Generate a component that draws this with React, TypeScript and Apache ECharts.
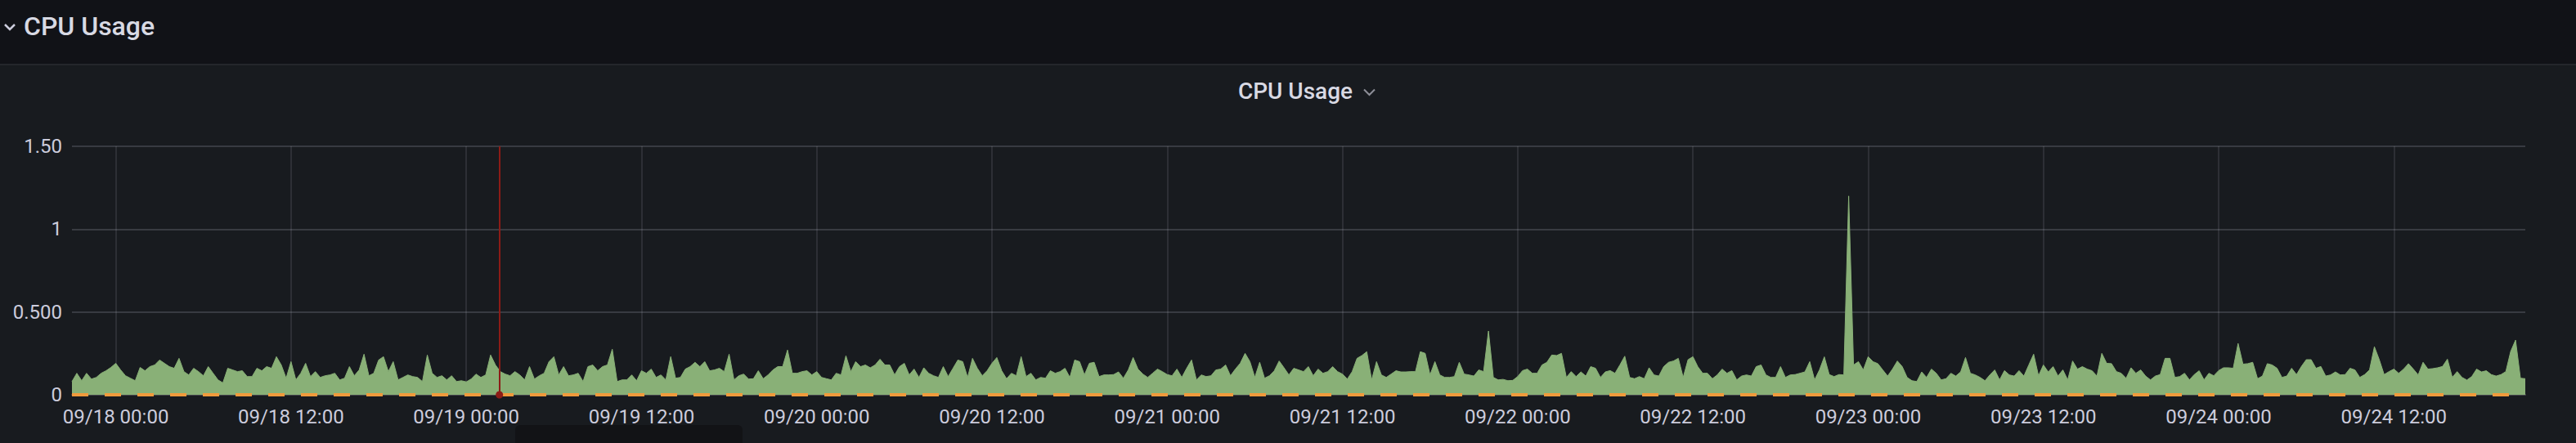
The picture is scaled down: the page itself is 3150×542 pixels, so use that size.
import React, { useEffect, useRef } from "react";
import * as echarts from "echarts";

// CPU usage, one sample every 20 minutes from 09/17 21:00 to 09/24 21:00
const cpuA = [
  0.08, 0.13, 0.085, 0.13, 0.095, 0.105, 0.13, 0.145, 0.165, 0.19,
  0.15, 0.115, 0.1, 0.085, 0.165, 0.145, 0.17, 0.18, 0.21, 0.19,
  0.17, 0.16, 0.22, 0.14, 0.12, 0.16, 0.14, 0.115, 0.17, 0.13,
  0.09, 0.072, 0.16, 0.15, 0.14, 0.145, 0.11, 0.11, 0.16, 0.145,
  0.17, 0.16, 0.23, 0.18, 0.1, 0.2, 0.09, 0.13, 0.19, 0.11,
  0.14, 0.105, 0.115, 0.12, 0.13, 0.09, 0.1, 0.17, 0.115, 0.15,
  0.245, 0.115, 0.13, 0.21, 0.23, 0.14, 0.2, 0.09, 0.105, 0.12,
  0.11, 0.105, 0.08, 0.24, 0.13, 0.105, 0.115, 0.09, 0.115, 0.08,
  0.085, 0.078, 0.095, 0.125, 0.105, 0.12, 0.24, 0.18, 0.14, 0.125,
  0.115, 0.14, 0.12, 0.09, 0.17, 0.095, 0.115, 0.13, 0.2, 0.23,
  0.12, 0.17, 0.115, 0.12, 0.13, 0.08, 0.17, 0.18, 0.145, 0.17,
  0.18, 0.275, 0.08, 0.09, 0.09, 0.12, 0.085, 0.145, 0.13, 0.155,
  0.105, 0.12, 0.09, 0.23, 0.1, 0.105, 0.155, 0.17,
];
const cpuB = [
  0.196, 0.17, 0.2, 0.145, 0.15, 0.16, 0.14, 0.245, 0.09, 0.115,
  0.125, 0.095, 0.097, 0.145, 0.097, 0.12, 0.15, 0.17, 0.17, 0.27,
  0.13, 0.13, 0.14, 0.145, 0.12, 0.14, 0.105, 0.097, 0.09, 0.13,
  0.12, 0.235, 0.14, 0.2, 0.17, 0.18, 0.163, 0.18, 0.215, 0.18,
  0.18, 0.12, 0.17, 0.19, 0.12, 0.155, 0.105, 0.163, 0.13, 0.115,
  0.105, 0.17, 0.11, 0.16, 0.21, 0.2, 0.105, 0.22, 0.16, 0.115,
  0.145, 0.19, 0.225, 0.145, 0.097, 0.13, 0.115, 0.23, 0.11, 0.13,
  0.09, 0.105, 0.1, 0.145, 0.13, 0.14, 0.16, 0.105, 0.21, 0.2,
  0.12, 0.19, 0.196, 0.11, 0.12, 0.12, 0.122, 0.138, 0.1, 0.15,
  0.225, 0.155, 0.125, 0.105, 0.13, 0.155, 0.14, 0.122, 0.115, 0.155,
  0.105, 0.16, 0.21, 0.09, 0.12, 0.11, 0.115, 0.15, 0.155, 0.18,
  0.115, 0.155, 0.19, 0.25, 0.2, 0.105, 0.196, 0.1, 0.115, 0.145,
  0.204, 0.163, 0.12, 0.16, 0.15, 0.14, 0.17,
];
const cpuC = [
  0.115, 0.155, 0.13, 0.14, 0.17, 0.14, 0.125, 0.095, 0.14, 0.22,
  0.237, 0.26, 0.09, 0.2, 0.12, 0.105, 0.125, 0.145, 0.138, 0.138,
  0.14, 0.14, 0.26, 0.25, 0.12, 0.2, 0.12, 0.105, 0.105, 0.11,
  0.196, 0.125, 0.12, 0.113, 0.15, 0.14, 0.385, 0.105, 0.09, 0.093,
  0.085, 0.087, 0.11, 0.146, 0.155, 0.13, 0.13, 0.18, 0.196, 0.24,
  0.237, 0.25, 0.105, 0.14, 0.11, 0.138, 0.113, 0.17, 0.16, 0.105,
  0.138, 0.146, 0.13, 0.18, 0.233, 0.105, 0.097, 0.11, 0.097, 0.163,
  0.12, 0.113, 0.17, 0.196, 0.204, 0.22, 0.105, 0.212, 0.23, 0.17,
  0.13, 0.13, 0.097, 0.12, 0.155, 0.13, 0.146, 0.09, 0.113, 0.12,
  0.113, 0.17, 0.18, 0.12, 0.105, 0.105, 0.17, 0.105, 0.12, 0.122,
  0.13, 0.138, 0.2, 0.09, 0.15, 0.229, 0.122, 0.11, 0.122, 0.12,
  1.2, 0.18, 0.2, 0.15, 0.23, 0.2, 0.188, 0.15, 0.113, 0.155,
  0.204, 0.17, 0.105, 0.085, 0.08, 0.138,
];
const cpuD = [
  0.105, 0.155, 0.13, 0.09, 0.097, 0.13, 0.113, 0.138, 0.225, 0.13,
  0.12, 0.105, 0.085, 0.12, 0.15, 0.09, 0.146, 0.12, 0.113, 0.146,
  0.113, 0.18, 0.245, 0.115, 0.18, 0.138, 0.17, 0.113, 0.15, 0.09,
  0.204, 0.155, 0.17, 0.155, 0.145, 0.113, 0.25, 0.19, 0.188, 0.14,
  0.13, 0.1, 0.163, 0.13, 0.15, 0.113, 0.09, 0.113, 0.122, 0.22,
  0.22, 0.105, 0.11, 0.13, 0.09, 0.122, 0.145, 0.09, 0.13, 0.115,
  0.146, 0.163, 0.163, 0.16, 0.31, 0.185, 0.188, 0.196, 0.097, 0.113,
  0.188, 0.18, 0.16, 0.105, 0.113, 0.16, 0.122, 0.171, 0.212, 0.212,
  0.16, 0.171, 0.113, 0.12, 0.138, 0.12, 0.122, 0.16, 0.15, 0.105,
  0.122, 0.15, 0.29, 0.212, 0.122, 0.14, 0.155, 0.13, 0.155, 0.188,
  0.155, 0.12, 0.196, 0.155, 0.158, 0.163, 0.171, 0.215, 0.105, 0.14,
  0.105, 0.089, 0.11, 0.155, 0.138, 0.145, 0.122, 0.113, 0.122, 0.14,
  0.262, 0.33, 0.1, 0.097,
];

// Time is measured in hours from 09/18 00:00
const START_H = -3; // 09/17 21:00
const END_H = 165; // 09/24 21:00
const STEP_H = 20 / 60;
const ANNOTATION_H = 26 + 16 / 60; // 09/19 02:16

const xTicks = [0, 12, 24, 36, 48, 60, 72, 84, 96, 108, 120, 132, 144, 156];
const xTickLabels = [
  "09/18 00:00", "09/18 12:00", "09/19 00:00", "09/19 12:00", "09/20 00:00",
  "09/20 12:00", "09/21 00:00", "09/21 12:00", "09/22 00:00", "09/22 12:00",
  "09/23 00:00", "09/23 12:00", "09/24 00:00", "09/24 12:00",
];

const yTicks = [0, 0.5, 1, 1.5];
const yTickLabels = ["0", "0.500", "1", "1.50"];
const rowTitle = "CPU Usage";
const panelTitle = "CPU Usage";

const TEXT = "#ccccdc";
const GREEN = "#89b077";
const ORANGE = "#f09a3c";
const RED = "#8c1c17";

const labelFor = (ticks: number[], labels: string[], v: number) => {
  const k = ticks.findIndex((t) => Math.abs(t - v) < 1e-6);
  return k >= 0 ? labels[k] : "";
};

export default function App() {
  const ref = useRef<HTMLDivElement>(null);
  useEffect(() => {
    if (!ref.current) return;
    const chart = echarts.init(ref.current, null, { renderer: "svg" });
    const values = [...cpuA, ...cpuB, ...cpuC, ...cpuD];
    const data = values.map((v, i) => [START_H + i * STEP_H, v]);
    chart.setOption({
      animation: false,
      backgroundColor: "#181b1f",
      textStyle: { fontFamily: "Roboto" },
      grid: { left: 88, right: 62, top: 179, bottom: 59 },
      xAxis: {
        type: "value",
        min: START_H,
        max: END_H,
        axisLine: { show: true, onZero: false, lineStyle: { color: "#46474d", width: 2 } },
        axisTick: { show: false, customValues: xTicks },
        axisLabel: {
          color: TEXT,
          fontSize: 24,
          fontFamily: "Roboto",
          margin: 15,
          customValues: xTicks,
          hideOverlap: false,
          formatter: (v: number) => labelFor(xTicks, xTickLabels, v),
        },
        splitLine: {
          show: true,
          lineStyle: { color: "rgba(204,204,220,0.16)", width: 1.5 },
        },
      },
      yAxis: {
        type: "value",
        min: 0,
        max: 1.5,
        interval: 0.5,
        axisLine: { show: false },
        axisTick: { show: false },
        axisLabel: {
          color: TEXT,
          fontSize: 24,
          fontFamily: "Roboto",
          margin: 12,
          formatter: (v: number) => labelFor(yTicks, yTickLabels, v),
        },
        splitLine: { lineStyle: { color: "rgba(204,204,220,0.18)", width: 2 } },
      },
      series: [
        {
          type: "line",
          name: "CPU",
          data,
          showSymbol: false,
          symbol: "none",
          lineStyle: { color: GREEN, width: 1 },
          itemStyle: { color: GREEN },
          areaStyle: { color: GREEN, opacity: 1 },
          emphasis: { disabled: true },
          markLine: {
            silent: true,
            animation: false,
            symbol: ["none", "none"],
            label: { show: false },
            emphasis: { disabled: true },
            data: [
              { yAxis: 0, lineStyle: { color: ORANGE, width: 4, type: [20, 20] } },
              {
                xAxis: ANNOTATION_H,
                symbol: "circle",
                symbolSize: 9,
                lineStyle: { color: RED, width: 2, type: "solid" },
              },
            ],
          },
        },
      ],
      graphic: [
        { type: "rect", shape: { x: 0, y: 0, width: 3150, height: 78 }, style: { fill: "#111217" } },
        { type: "rect", shape: { x: 0, y: 78, width: 3150, height: 2 }, style: { fill: "#24262b" } },
        {
          type: "polyline",
          shape: { points: [[6, 30], [12, 36], [18, 30]] },
          style: { stroke: TEXT, lineWidth: 2.5, fill: null },
        },
        {
          type: "text",
          x: 29,
          y: 32,
          style: {
            text: rowTitle,
            fontSize: 32,
            fontWeight: 500,
            fontFamily: "Roboto",
            fill: "#d8d9e3",
            verticalAlign: "middle",
          },
        },
        {
          type: "text",
          x: 1584,
          y: 111,
          style: {
            text: panelTitle,
            fontSize: 28,
            fontWeight: 500,
            fontFamily: "Roboto",
            fill: "#d8d9e3",
            align: "center",
            verticalAlign: "middle",
          },
        },
        {
          type: "polyline",
          shape: { points: [[1668, 109.5], [1674.5, 116], [1681, 109.5]] },
          style: { stroke: "#8e8f98", lineWidth: 2, fill: null },
        },
        {
          type: "rect",
          shape: { x: 630, y: 520, width: 278, height: 40, r: 6 },
          style: { fill: "#121316" },
        },
      ],
    });
    return () => chart.dispose();
  }, []);
  return (
    <div
      ref={ref}
      style={{ position: "fixed", left: 0, top: 0, width: 3150, height: 542 }}
    />
  );
}
